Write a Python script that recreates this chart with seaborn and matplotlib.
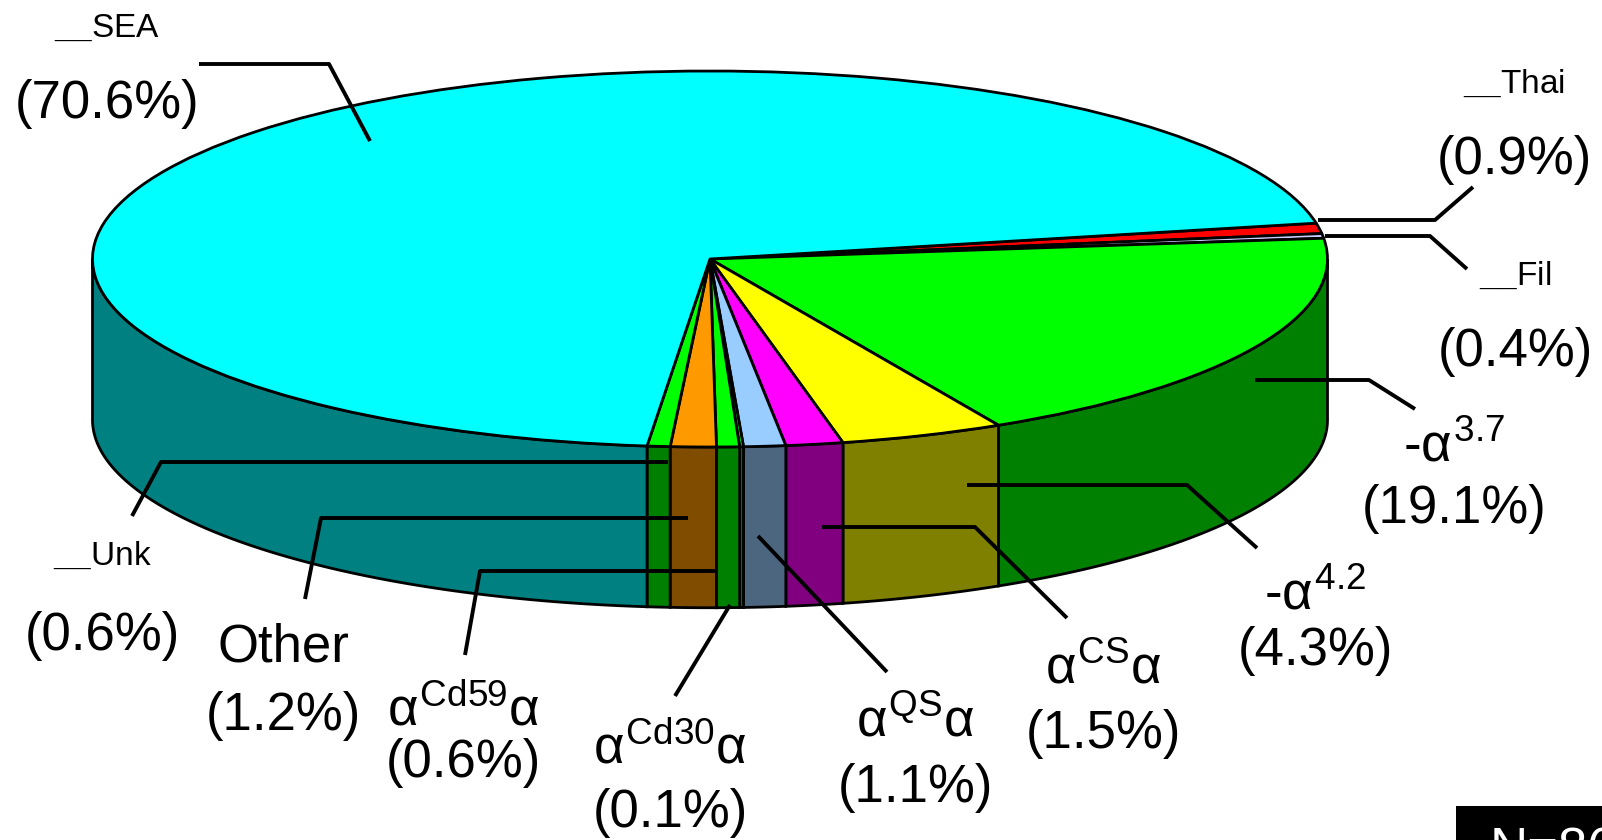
import matplotlib
matplotlib.use("Agg")
import matplotlib.pyplot as plt
from matplotlib.patches import Rectangle
import numpy as np
import seaborn as sns

# Data (clockwise from the top of the Thai slice)
groups = ["Thai", "Fil", "a3.7", "a4.2", "CS", "QS", "Cd30", "Cd59", "Other", "Unk", "SEA"]
percent = [0.9, 0.4, 19.1, 4.3, 1.5, 1.1, 0.1, 0.6, 1.2, 0.6, 70.6]
names = [r"$\mathbf{\_\_}$Thai", r"$\mathbf{\_\_}$Fil", r"-$\alpha^{3.7}$", r"-$\alpha^{4.2}$",
         r"$\alpha^{\mathrm{CS}}\alpha$", r"$\alpha^{\mathrm{QS}}\alpha$",
         r"$\alpha^{\mathrm{Cd30}}\alpha$", r"$\alpha^{\mathrm{Cd59}}\alpha$",
         "Other", r"$\mathbf{\_\_}$Unk", r"$\mathbf{\_\_}$SEA"]
top_colors = ["#FF0000", "#CCCCFF", "#00FF00", "#FFFF00", "#FF00FF", "#99CCFF",
              "#00FF00", "#00FF00", "#FF9900", "#00FF00", "#00FFFF"]

sns.set_theme(style="white")
plt.rcParams["font.family"] = ["Liberation Sans", "DejaVu Sans"]
plt.rcParams["text.color"] = "black"
plt.rcParams["mathtext.fontset"] = "custom"
plt.rcParams["mathtext.rm"] = "Liberation Sans"
plt.rcParams["mathtext.it"] = "Liberation Sans"
plt.rcParams["mathtext.sf"] = "Liberation Sans"
plt.rcParams["mathtext.bf"] = "Liberation Sans:bold"

# geometry of the tilted pie, in output pixels
W, H = 1602, 840
CX, CY, RX, RY = 710, 259, 617.5, 188
DEPTH = 0.855


def to_data(x, y):
    return (x - CX) / RX, (CY - y) / RY


# label layout: centre x, name baseline, value baseline, name size, leader points
layout = {
    "Thai": (1514, 93, 174, 24, [(1318, 220), (1435, 220), (1473, 187)]),
    "Fil": (1515, 285, 366, 24, [(1325, 236), (1430, 236), (1467, 269)]),
    "a3.7": (1454, 462, 523, 38, [(1255, 380), (1369, 380), (1415, 409)]),
    "a4.2": (1315, 610, 665, 38, [(967, 485), (1187, 485), (1257, 548)]),
    "CS": (1103, 683, 748, 38, [(822, 527), (975, 527), (1067, 618)]),
    "QS": (915, 737, 802, 38, [(758, 536), (887, 672)]),
    "Cd30": (670, 763, 827, 38, [(730, 605), (675, 696)]),
    "Cd59": (463, 726, 777, 38, [(715, 571), (480, 571), (465, 655)]),
    "Other": (283, 662, 730, 38, [(688, 518), (321, 518), (305, 599)]),
    "Unk": (102, 565, 650, 24, [(668, 462), (161, 462), (132, 516)]),
    "SEA": (107, 37, 118, 24, [(370, 141), (329, 64), (199, 64)]),
}

fig = plt.figure(figsize=(W / 100, H / 100), dpi=100)
ax = fig.add_axes([0, 0, 1, 1])

# top face
wedges, _ = ax.pie(percent, colors=top_colors, startangle=11, counterclock=False,
                   radius=1, center=(0, 0),
                   wedgeprops=dict(edgecolor="black", linewidth=2, joinstyle="round"))

# side walls, darker shade of each slice
side_colors = [tuple(c * 0.5 for c in rgb) for rgb in sns.color_palette(top_colors)]
for w, col in zip(wedges, side_colors):
    for k in (-360, 0, 360, 720):
        a = max(w.theta1 + k, 180)
        b = min(w.theta2 + k, 360)
        if b > a:
            t = np.radians(np.linspace(a, b, 120))
            xs = np.concatenate([np.cos(t), np.cos(t[::-1])])
            ys = np.concatenate([np.sin(t), np.sin(t[::-1]) - DEPTH])
            ax.fill(xs, ys, facecolor=col, edgecolor="black", linewidth=2, zorder=0.5)

# labels and leader lines
for g, name, p in zip(groups, names, percent):
    cx, ny, vy, nsize, pts = layout[g]
    xs, ys = zip(*[to_data(*q) for q in pts])
    ax.plot(xs, ys, color="black", lw=2.8, solid_capstyle="butt", zorder=3)
    ax.text(*to_data(cx, ny), name, ha="center", va="baseline", fontsize=nsize)
    ax.text(*to_data(cx, vy), f"({p:.1f}%)", ha="center", va="baseline", fontsize=38)

# sample size box, cut by the bottom edge
x0, y0 = to_data(1456, 806)
ax.add_patch(Rectangle((x0, y0), 5, -5, facecolor="black", edgecolor="none", zorder=4))
ax.text(*to_data(1490, 866), "N=86", color="white", fontsize=38, va="baseline",
        ha="left", zorder=5)

ax.set_aspect("auto")
ax.set_xlim(-CX / RX, (W - CX) / RX)
ax.set_ylim((CY - H) / RY, CY / RY)
ax.axis("off")

fig.savefig("out.png", dpi=100)
